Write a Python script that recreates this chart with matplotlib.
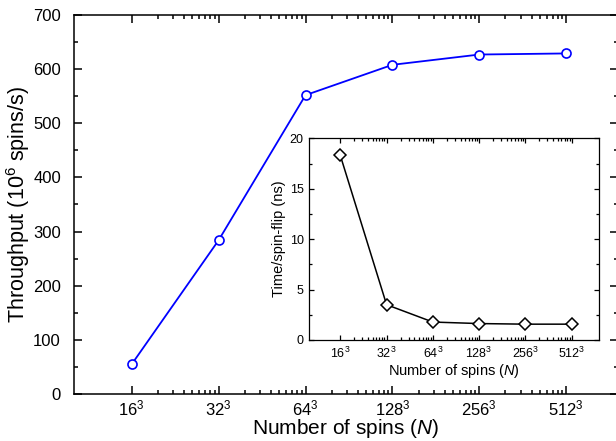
import numpy as np
import matplotlib
matplotlib.use('Agg')
import matplotlib.pyplot as plt
from matplotlib.ticker import FixedLocator, NullFormatter, MultipleLocator

plt.rcParams['font.family'] = ['Liberation Sans', 'DejaVu Sans']
plt.rcParams['mathtext.fontset'] = 'custom'
plt.rcParams['mathtext.rm'] = 'Liberation Sans'
plt.rcParams['mathtext.it'] = 'Liberation Sans:italic'

# data
sides = [16, 32, 64, 128, 256, 512]
throughput = [55, 284, 552, 608, 627, 629]          # 10^6 spins/s
time_per_flip = [18.3, 3.5, 1.78, 1.63, 1.57, 1.57]  # ns

N = np.array(sides, dtype=float) ** 3
tick_labels = ["$%d^3$" % s for s in sides]

# minor ticks drawn origin style: log10 steps inside each major interval
minor = []
for m in N[:-1]:
    for k in range(2, 10):
        minor.append(m * 8 ** np.log10(k))

xmin = N[0] * 8 ** (-0.67)
xmax = N[-1] * 8 ** (0.59)


def style_axes(ax, major_len, minor_len, lw):
    ax.set_xscale('log', base=8)
    ax.set_xlim(xmin, xmax)
    ax.xaxis.set_major_locator(FixedLocator(N))
    ax.xaxis.set_minor_locator(FixedLocator(minor))
    ax.xaxis.set_minor_formatter(NullFormatter())
    ax.set_xticklabels(tick_labels)
    ax.tick_params(which='both', direction='in', top=True, right=True, width=lw)
    ax.tick_params(which='major', length=major_len)
    ax.tick_params(which='minor', length=minor_len)
    for s in ax.spines.values():
        s.set_linewidth(lw)


fig = plt.figure(figsize=(6.16, 4.41), dpi=100)
W, H = 616.0, 441.0

# main axes
ax = fig.add_axes([73.5 / W, 1 - 394 / H, (617.5 - 73.5) / W, (394 - 15) / H])
ax.plot(N, throughput, '-o', color='#0000ff', lw=1.3, ms=6.5,
        mfc='white', mec='#0000ff', mew=1.2, zorder=3)
style_axes(ax, 6, 3, 1.1)
ax.set_ylim(0, 700)
ax.yaxis.set_major_locator(MultipleLocator(100))
ax.yaxis.set_minor_locator(MultipleLocator(50))
ax.tick_params(axis='y', labelsize=12, pad=9)
ax.tick_params(axis='x', labelsize=12, pad=3)
ax.set_xlabel("Number of spins ($\\mathit{N}$)", fontsize=15, labelpad=-1)
ax.set_ylabel("Throughput (10$^6$ spins/s)", fontsize=15.5, labelpad=1)

# inset
ax2 = fig.add_axes([309.3 / W, 1 - 340 / H, (599 - 309.3) / W, (340 - 138.3) / H])
ax2.set_facecolor('white')
ax2.plot(N, time_per_flip, '-D', color='black', lw=1.1, ms=6,
         mfc='white', mec='black', mew=1.1, zorder=3)
style_axes(ax2, 3.5, 2, 0.9)
ax2.set_ylim(0, 20)
ax2.yaxis.set_major_locator(MultipleLocator(5))
ax2.yaxis.set_minor_locator(MultipleLocator(2.5))
ax2.tick_params(labelsize=9, pad=4)
ax2.set_xlabel("Number of spins ($\\mathit{N}$)", fontsize=10.5, labelpad=1)
ax2.set_ylabel("Time/spin-flip (ns)", fontsize=10.5, labelpad=3)

fig.savefig("out.png", dpi=100)
